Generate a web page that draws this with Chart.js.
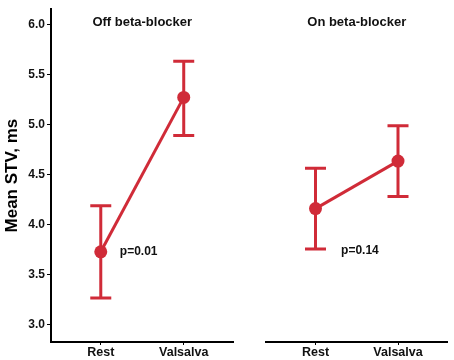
<!DOCTYPE html>
<html>
<head>
<meta charset="utf-8">
<script src="https://cdn.jsdelivr.net/npm/chart.js@4"></script>
<style>
  body { margin: 0; background: #fff; }
  #wrap { position: relative; width: 454px; height: 360px; }
  #offChart { position: absolute; left: 0; top: 0; }
  #onChart { position: absolute; left: 240px; top: 0; }
</style>
</head>
<body>
<div id="wrap">
  <canvas id="offChart" width="240" height="360"></canvas>
  <canvas id="onChart" width="214" height="360"></canvas>
</div>
<script>
// data
const categories = ['Rest', 'Valsalva'];
const panelTitles = ['Off beta-blocker', 'On beta-blocker'];
const pLabels = ['p=0.01', 'p=0.14'];
const offMean = [3.73, 5.27];
const offLow = [3.27, 4.89];
const offHigh = [4.19, 5.63];
const onMean = [4.15, 4.62];
const onLow = [3.75, 4.27];
const onHigh = [4.55, 4.97];
const yTicks = [3.0, 3.5, 4.0, 4.5, 5.0, 5.5, 6.0];

var red = 'rgb(208,43,56)';
var fontFam = '"Liberation Sans", Arial, Helvetica, sans-serif';

// draws the CI whiskers with the chart's own scales
var errorBars = {
    id: 'errorBars',
    beforeDatasetsDraw: function(chart) {
        var o = chart.options.plugins.errorBars;
        var ctx = chart.ctx;
        var xs = chart.scales.x, ys = chart.scales.y;
        ctx.save();
        ctx.strokeStyle = red;
        ctx.lineWidth = 3;
        for (var i = 0; i < o.low.length; i++) {
            var px = xs.getPixelForValue(i);
            var top = ys.getPixelForValue(o.high[i]);
            var bot = ys.getPixelForValue(o.low[i]);
            ctx.beginPath();
            ctx.moveTo(px, top); ctx.lineTo(px, bot);
            ctx.moveTo(px - 10.5, top); ctx.lineTo(px + 10.5, top);
            ctx.moveTo(px - 10.5, bot); ctx.lineTo(px + 10.5, bot);
            ctx.stroke();
        }
        ctx.restore();
    },
    afterDraw: function(chart) {
        var o = chart.options.plugins.errorBars;
        var ctx = chart.ctx;
        var a = chart.chartArea;
        ctx.save();
        ctx.fillStyle = '#111';
        ctx.font = 'bold 13px ' + fontFam;
        ctx.textAlign = 'center';
        ctx.textBaseline = 'middle';
        ctx.fillText(o.title, (a.left + a.right) / 2, 22);
        ctx.font = 'bold 12px ' + fontFam;
        ctx.textAlign = 'left';
        ctx.fillText(o.pText, chart.scales.x.getPixelForValue(o.pAt[0]), chart.scales.y.getPixelForValue(o.pAt[1]));
        ctx.restore();
    }
};

function makePanel(id, means, lows, highs, idx, showY, pad, pAt) {
    return new Chart(id, {
        type: 'line',
        data: {
            datasets: [{
                data: means.map(function(v, i) { return { x: i, y: v }; }),
                borderColor: red,
                backgroundColor: red,
                borderWidth: 3,
                pointRadius: 6.5,
                pointHoverRadius: 6.5,
                pointBorderWidth: 0,
                clip: false
            }]
        },
        options: {
            responsive: false,
            animation: false,
            layout: { padding: pad },
            plugins: {
                legend: { display: false },
                tooltip: { enabled: false },
                errorBars: { low: lows, high: highs, title: panelTitles[idx], pText: pLabels[idx], pAt: pAt }
            },
            scales: {
                x: {
                    type: 'linear',
                    min: -0.6, max: 1.6,
                    afterBuildTicks: function(s) { s.ticks = [{ value: 0 }, { value: 1 }]; },
                    afterFit: function(s) { s.height = 18; },
                    border: { color: '#000', width: 2 },
                    grid: { drawOnChartArea: false, drawTicks: true, tickLength: 3, color: '#000' },
                    ticks: {
                        padding: 0,
                        color: '#111',
                        font: { family: fontFam, size: 12.5, weight: 'bold' },
                        callback: function(v) { return categories[v]; }
                    }
                },
                y: {
                    display: showY,
                    min: 2.83, max: 6.15,
                    afterBuildTicks: function(s) { s.ticks = yTicks.map(function(v) { return { value: v }; }); },
                    afterFit: function(s) { if (showY) s.width = 51; },
                    border: { color: '#000', width: 2 },
                    grid: { drawOnChartArea: false, drawTicks: true, tickLength: 4, color: '#000' },
                    ticks: {
                        padding: 2,
                        color: '#111',
                        font: { family: fontFam, size: 12, weight: 'bold' },
                        callback: function(v) { return v.toFixed(1); }
                    },
                    title: {
                        display: true,
                        text: 'Mean STV, ms',
                        color: '#000',
                        padding: { top: 2, bottom: 0 },
                        font: { family: fontFam, size: 17, weight: 'bold' }
                    }
                }
            }
        },
        plugins: [errorBars]
    });
}

makePanel('offChart', offMean, offLow, offHigh, 0, true, { top: 3, right: 3, left: 0, bottom: 0 }, [0.23, 3.73]);
makePanel('onChart', onMean, onLow, onHigh, 1, false, { top: 3, right: 0, left: 26, bottom: 0 }, [0.31, 3.73]);
</script>
</body>
</html>
